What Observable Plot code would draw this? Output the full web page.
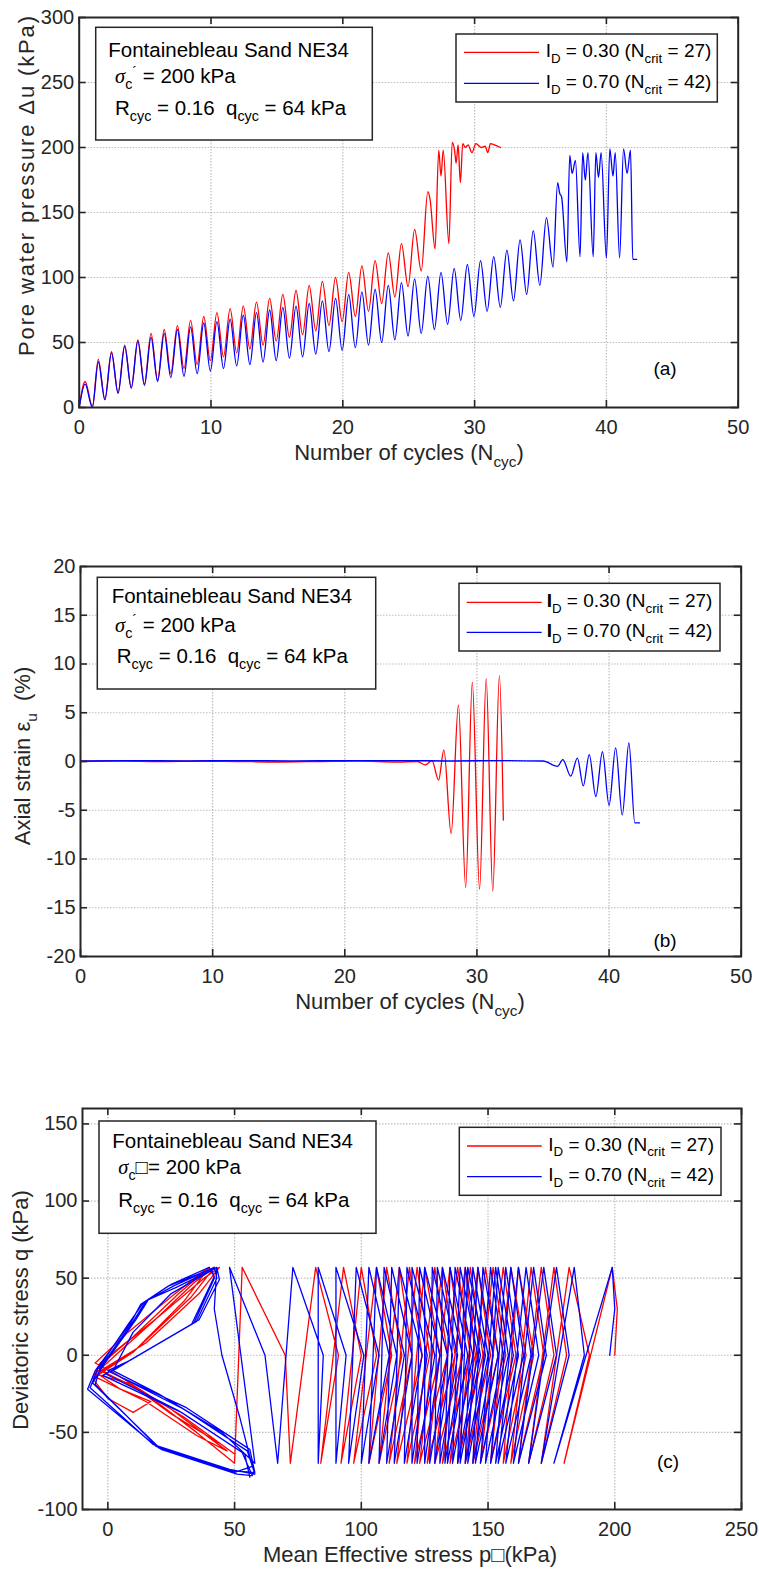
<!DOCTYPE html>
<html><head><meta charset="utf-8">
<script src="https://cdn.jsdelivr.net/npm/d3@7"></script>
<script src="https://cdn.jsdelivr.net/npm/@observablehq/plot@0.6"></script>
<style>
html,body{margin:0;padding:0;background:#fff;}
#wrap{position:relative;width:759px;height:1571px;overflow:hidden;background:#fff;}
#wrap > svg{position:absolute;left:0;}
</style></head><body><div id="wrap"></div>
<script>
// ---------- Panel (a): pore water pressure vs cycles ----------
const aTicksX = [0, 10, 20, 30, 40, 50];
const aTicksY = [0, 50, 100, 150, 200, 250, 300];
const aRedN = [0,0.45,1.0,1.45,1.95,2.45,2.95,3.45,3.95,4.45,4.95,5.45,5.95,6.45,6.95,7.45,7.95,8.45,8.95,9.45,9.95,10.45,10.95,11.45,11.95,12.45,12.95,13.45,13.95,14.45,14.95,15.45,15.95,16.45,16.95,17.45,17.95,18.45,18.95,19.45,19.95,20.45,20.95,21.45,21.95,22.45,22.95,23.45,23.95,24.45,24.95,25.45,25.95,26.45,26.62,27.0,27.28,27.45,27.62,28.05,28.3,28.48,28.6,28.75,28.92,29.1,29.3,29.5,29.8,30.1,30.5,30.8,31.0,31.2,31.5,31.96];
const aRedU = [0,20,1,37,6,43,11,48,15,52,18,57,21,60,26,63,30,67,33,70,36,73,39,76,42,78,45,81,48,84,51,87,54,90,56,94,59,97,63,100,66,104,70,109,74,113,80,119,85,126,93,137,105,166,160,122,198,178,198,126,204,198,188,202,173,203,200,202,196,203,200,201,196,203,202,200];
const aBlueN = [0,0.45,1.0,1.45,1.95,2.45,2.95,3.45,3.95,4.45,4.95,5.45,5.95,6.45,6.95,7.45,7.95,8.45,8.95,9.45,9.95,10.45,10.95,11.45,11.95,12.45,12.95,13.45,13.95,14.45,14.95,15.45,15.95,16.45,16.95,17.45,17.95,18.45,18.95,19.45,19.95,20.45,20.95,21.45,21.95,22.45,22.95,23.45,23.95,24.45,24.95,25.45,25.95,26.45,26.95,27.45,27.95,28.45,28.95,29.45,29.95,30.45,30.95,31.45,31.95,32.45,32.95,33.45,33.95,34.45,34.95,35.45,35.95,36.3,36.45,36.6,37.0,37.22,37.4,37.65,38.0,38.2,38.4,38.6,39.0,39.2,39.4,39.6,40.0,40.26,40.5,40.67,41.0,41.3,41.57,41.83,42.0,42.3];
const aBlueU = [0,18,0,35,6,42,11,47,15,51,17,54,20,57,23,60,24,62,26,65,28,66,30,68,32,71,33,73,35,75,36,77,38,78,39,80,41,82,43,84,44,87,46,89,48,91,50,94,52,96,55,99,57,101,60,104,64,107,67,110,70,113,74,116,77,121,82,129,87,136,94,146,108,173,165,162,112,194,180,190,116,196,175,196,116,196,177,196,115,199,178,196,115,199,180,198,114,114];

// ---------- Panel (b): axial strain vs cycles ----------
const bTicksX = [0, 10, 20, 30, 40, 50];
const bTicksY = [-20, -15, -10, -5, 0, 5, 10, 15, 20];
const bRedN = [0,3,6,9,12,15,18,21,24,25.5,26.1,26.6,27.1,27.5,28.05,28.6,29.15,29.65,30.2,30.7,31.2,31.7,32.0];
const bRedE = [0,0.05,0,0.05,0,-0.05,0,0.05,-0.05,0,-0.35,0.1,-1.9,1.2,-7.4,5.8,-12.9,8.1,-13.1,8.5,-13.3,8.8,-6.0];
const bBlueN = [0,4,8,12,16,20,24,28,32,35,36.1,36.5,37.1,37.6,38.05,38.5,39.0,39.5,40.0,40.5,41.0,41.5,41.95,42.3];
const bBlueE = [0.05,0.1,0.05,0.1,0.05,0.1,0.1,0.05,0.1,0.05,-0.5,0.2,-1.5,0.35,-2.5,0.7,-3.6,1.0,-4.5,1.4,-5.5,1.9,-6.3,-6.3];

// ---------- Panel (c): stress path q vs p' ----------
const cTicksX = [0, 50, 100, 150, 200, 250];
const cTicksY = [-100, -50, 0, 50, 100, 150];
const cQTop = 57, cQMid = 0, cQBot = -70;
const cRedStartP = [200, 201], cRedStartQ = [0, 30];
// p' at the compression peak (q = 57), at the extension trough (q = -70), and at q = 0 on the way back up
const cRedTopP = [199,182,176,171,167,162,159,156,152,149,146,143,141,138,135,132,129,125,122,119,115,110,106,100,93,82,53];
const cRedBotP = [180,171,166,162,159,156,151,147,144,141,138,135,132,129,126,123,121,118,114,111,107,103,97,92,84,72,50];
const cRedMidP = [190,181,176,172,168,165,161,157,154,151,148,145,143,140,137,134,131,127,124,120,116,112,106,100,91,70];
const cRedTailP = [35,15,0,-4,5,20,38,44,36,15,-3,10,25,45,50,30,8,-5,3,18,34,42,33,12,-4,5,17,10,0,-6,-3,10,28,40,30,10,-5,15,35,47,25,3,-5,8,25,38];
const cRedTailQ = [-50,-25,-12,-8,5,25,50,57,40,8,-10,-20,-38,-58,-64,-40,-18,-12,0,22,47,57,38,5,-12,-22,-30,-37,-28,-15,-5,12,40,57,35,2,-14,-30,-52,-62,-35,-12,-5,15,38,55];
const cBlueStartP = [198, 200], cBlueStartQ = [0, 30];
const cBlueTopP = [199,184,177,172,168,165,162,159,157,154,153,151,148,146,144,142,141,139,137,135,132,130,128,125,123,120,118,115,112,109,106,103,98,90,83,73,48];
const cBlueBotP = [176,171,166,162,160,157,154,153,151,149,147,145,144,142,141,139,138,136,134,133,131,129,127,125,122,120,117,113,110,107,103,100,95,90,83,67,58];
const cBlueMidP = [188,182,177,173,170,167,164,162,160,158,156,154,152,150,149,147,146,144,142,140,138,136,134,131,129,126,124,120,117,114,111,107,101,94,85,62];
const cBlueTailP = [45,20,2,10,25,43,42,45,52,57, 50,20,-5,-3,10,15,26,42,43,35,8,0,30,55,58, 48,18,-7,-4,8,14,25,40,42,33,6,-1,28,53,57, 51,21,-6,-2,11,16,27,43,44,36,9,1,31,56,58, 49,19,-8,-5,9,13,24,41,42,34,7,-2,29,54,56];
const cBlueTailQ = [-50,-25,-10,15,40,57,30,0,-40,-72, -76,-60,-19,-8,22,35,45,57,50,22,-4,-10,-35,-62,-77, -74,-58,-21,-9,20,34,46,57,51,20,-6,-12,-36,-63,-78, -77,-61,-18,-7,23,36,44,57,49,23,-3,-11,-34,-61,-76, -75,-59,-22,-10,21,33,45,56,50,21,-5,-13,-37,-64,-79];

// ---------- build tables ----------
const zipRows = (xs, ys) => xs.map((x, i) => ({x, y: ys[i]}));
function pathRows(startP, startQ, topP, botP, midP, tailP, tailQ) {
  const rows = zipRows(startP, startQ);
  topP.forEach((p, i) => {
    rows.push({x: p, y: cQTop});
    rows.push({x: botP[i], y: cQBot});
    if (i < midP.length) rows.push({x: midP[i], y: cQMid});
  });
  return rows.concat(zipRows(tailP, tailQ));
}
const RED = "#ff0000", BLUE = "#0000ff";
const W = 759;
const FONT = "'Liberation Sans', Arial, Helvetica, sans-serif";
const wrap = document.getElementById("wrap");

function makePanel(p) {
  const fw = W - p.ml - p.mr, fh = p.h - p.mt - p.mb;
  const tickStyle = {stroke: "#262626", strokeWidth: 1.6};
  const gridStyle = {stroke: "#bdbdbd", strokeOpacity: 1, strokeWidth: 1.2, strokeDasharray: "1.5,1.5"};
  const svg = Plot.plot({
    width: W, height: p.h,
    marginLeft: p.ml, marginRight: p.mr, marginTop: p.mt, marginBottom: p.mb,
    x: {domain: p.xd}, y: {domain: p.yd},
    style: {fontFamily: FONT, fontSize: "20px", color: "#262626", background: "transparent", overflow: "visible"},
    marks: [
      Plot.gridX(p.xt, gridStyle),
      Plot.gridY(p.yt, gridStyle),
      ...p.series.map(s => Plot.line(s.rows, {x: "x", y: "y", stroke: s.color, strokeWidth: 1.3, curve: p.curve})),
      Plot.frame({stroke: "#262626", strokeWidth: 2}),
      Plot.tickX(p.xt, {x: d => d, insetTop: fh - 7, ...tickStyle}),
      Plot.tickX(p.xt, {x: d => d, insetBottom: fh - 7, ...tickStyle}),
      Plot.tickY(p.yt, {y: d => d, insetLeft: fw - 7, ...tickStyle}),
      Plot.tickY(p.yt, {y: d => d, insetRight: fw - 7, ...tickStyle}),
      Plot.axisX(p.xt, {tickSize: 0, tickPadding: 12, label: null, fontSize: 20, tickFormat: d => `${d}`}),
      Plot.axisY(p.yt, {tickSize: 0, tickPadding: 5, label: null, fontSize: 20, tickFormat: d => `${d}`})
    ]
  });
  svg.style.top = p.top + "px";
  wrap.appendChild(svg);
}

makePanel({top: 0, h: 530, ml: 78.7, mr: 21.3, mt: 17, mb: 123, xd: [0, 50], yd: [0, 300],
  xt: aTicksX, yt: aTicksY, curve: "monotone-x",
  series: [{rows: zipRows(aRedN, aRedU), color: RED}, {rows: zipRows(aBlueN, aBlueU), color: BLUE}]});
makePanel({top: 530, h: 530, ml: 80, mr: 18.3, mt: 36, mb: 104, xd: [0, 50], yd: [-20, 20],
  xt: bTicksX, yt: bTicksY, curve: "monotone-x",
  series: [{rows: zipRows(bRedN, bRedE), color: RED}, {rows: zipRows(bBlueN, bBlueE), color: BLUE}]});
makePanel({top: 1060, h: 511, ml: 82, mr: 18, mt: 48, mb: 62, xd: [-10, 250], yd: [-100, 160],
  xt: cTicksX, yt: cTicksY, curve: "linear",
  series: [{rows: pathRows(cRedStartP, cRedStartQ, cRedTopP, cRedBotP, cRedMidP, cRedTailP, cRedTailQ), color: RED},
           {rows: pathRows(cBlueStartP, cBlueStartQ, cBlueTopP, cBlueBotP, cBlueMidP, cBlueTailP, cBlueTailQ), color: BLUE}]});

// ---------- overlay texts (titles, boxes, legends) ----------
const ov = d3.create("svg").attr("width", W).attr("height", 1571)
  .style("top", "0px").style("font-family", FONT);
wrap.appendChild(ov.node());

function label(x, y, segs, o = {}) {
  const size = o.size || 20;
  const t = ov.append("text").attr("x", x).attr("y", y)
    .attr("font-size", size).attr("text-anchor", o.anchor || "start")
    .attr("fill", o.fill || "#000").style("white-space", "pre");
  if (o.rotate) t.attr("transform", `rotate(-90,${x},${y})`);
  if (o.length) t.attr("textLength", o.length).attr("lengthAdjust", "spacing");
  let cur = 0;
  for (const s of segs) {
    const seg = typeof s === "string" ? {t: s} : s;
    const off = seg.sub ? size * 0.3 : seg.sup ? -size * 0.32 : 0;
    const ts = t.append("tspan").text(seg.t).attr("dy", off - cur);
    cur = off;
    if (seg.sub || seg.sup) ts.attr("font-size", size * 0.7);
    if (seg.italic) ts.attr("font-style", "italic");
    if (seg.family) ts.attr("font-family", seg.family);
    if (seg.bold) ts.attr("font-weight", "bold");
  }
  return t;
}
function box(x, y, w, h) {
  ov.append("rect").attr("x", x).attr("y", y).attr("width", w).attr("height", h)
    .attr("fill", "#fff").attr("stroke", "#262626").attr("stroke-width", 1.5);
}
const sigma = {t: "σ", italic: true, family: "'Liberation Serif', 'DejaVu Serif', serif"};
function infoBox(bx, by, bw, bh, lines, primeSegs) {
  box(bx, by, bw, bh);
  label(lines[0][0], lines[0][1], ["Fontainebleau Sand NE34"], {size: 20.5});
  label(lines[1][0], lines[1][1], [sigma, {t: "c", sub: true}].concat(primeSegs), {size: 20.5});
  label(lines[2][0], lines[2][1], ["R", {t: "cyc", sub: true}, " = 0.16  q", {t: "cyc", sub: true}, " = 64 kPa"], {size: 20.5});
}
function legend(bx, by, bw, bh, lx1, lx2, ly1, ly2, tx, boldI) {
  box(bx, by, bw, bh);
  ov.append("line").attr("x1", lx1).attr("x2", lx2).attr("y1", ly1).attr("y2", ly1).attr("stroke", RED).attr("stroke-width", 1.3);
  ov.append("line").attr("x1", lx1).attr("x2", lx2).attr("y1", ly2).attr("y2", ly2).attr("stroke", BLUE).attr("stroke-width", 1.3);
  label(tx, ly1 + 4.5, [{t: "I", bold: boldI}, {t: "D", sub: true}, " = 0.30 (N", {t: "crit", sub: true}, " = 27)"], {size: 19});
  label(tx, ly2 + 4.5, [{t: "I", bold: boldI}, {t: "D", sub: true}, " = 0.70 (N", {t: "crit", sub: true}, " = 42)"], {size: 19});
}
const AX = {size: 22, fill: "#262626"};

// panel (a)
infoBox(95.7, 27.3, 276.6, 112.7, [[108.3, 56.7], [115, 83.3], [115, 115]], [{t: "´", sup: true}, " = 200 kPa"]);
legend(456, 34, 261.3, 68, 464, 539, 52.3, 83.3, 545.7, false);
label(665, 375, ["(a)"], {size: 19, anchor: "middle"});
label(409, 460, ["Number of cycles (N", {t: "cyc", sub: true}, ")"], {...AX, anchor: "middle"});
label(34, 186, ["Pore water pressure Δu (kPa)"], {...AX, anchor: "middle", rotate: true, length: 340});

// panel (b)
infoBox(97.3, 577.3, 278.4, 111.7, [[111.7, 603.3], [115, 631.7], [116.7, 663.3]], [{t: "´", sup: true}, " = 200 kPa"]);
legend(459, 583.3, 261, 67.7, 466.7, 541.7, 602.3, 632.3, 546.7, true);
label(665, 947, ["(b)"], {size: 19, anchor: "middle"});
label(410, 1009, ["Number of cycles (N", {t: "cyc", sub: true}, ")"], {...AX, anchor: "middle"});
label(30, 756, ["Axial strain ε", {t: "u", sub: true}, "  (%)"], {...AX, anchor: "middle", rotate: true});

// panel (c)
infoBox(99, 1121, 277, 112.3, [[112.3, 1148], [118.3, 1174], [118.3, 1207]], ["□= 200 kPa"]);
legend(459.3, 1127.3, 261.7, 68, 467, 541.7, 1146, 1176.7, 548.3, false);
label(668, 1468, ["(c)"], {size: 19, anchor: "middle"});
label(410, 1562, ["Mean Effective stress p□(kPa)"], {...AX, anchor: "middle"});
label(28, 1310, ["Deviatoric stress q (kPa)"], {...AX, anchor: "middle", rotate: true});
</script></body></html>
